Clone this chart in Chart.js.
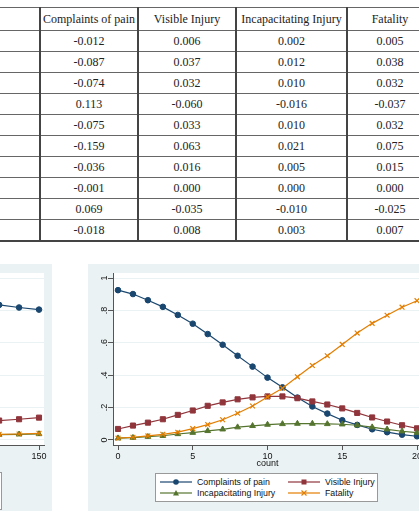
<!DOCTYPE html>
<html>
<head>
<meta charset="utf-8">
<script src="https://cdn.jsdelivr.net/npm/chart.js@4.4.1/dist/chart.umd.min.js"></script>
<style>
  body { margin: 0; width: 419px; height: 511px; overflow: hidden; position: relative; background: #fff; }
  #tbl { position: absolute; left: 0; top: 7px; width: 432px; border-collapse: collapse; table-layout: fixed;
         font-family: "Liberation Serif", "Times New Roman", serif; font-size: 12px; color: #222; }
  #tbl td { text-align: center; padding: 0; border-top: 1px solid #666; border-bottom: 1px solid #666;
            border-left: 2px solid #444; border-right: 2px solid #444; height: 20px; }
  #tbl tr:first-child td { height: 22px; }
  #tbl td:first-child { border-left: none; }
  #tbl td:last-child { border-right: none; }
  #tbl tr:last-child td { border-bottom: 2px solid #444; }
  .graph { position: absolute; top: 264px; height: 247px; background: #eaf2f3; overflow: hidden; }
  .graph canvas { position: absolute; left: 0; top: 0; }
  .legend { position: absolute; left: 67px; top: 209px; width: 223px; height: 29px; box-sizing: border-box;
            background: #fff; border: 1px solid #999;
            font-family: "Liberation Sans", Arial, sans-serif; font-size: 8.8px; color: #111; }
  .legend span { position: absolute; white-space: nowrap; line-height: 10px; }
  .legend svg { position: absolute; }
  #leftLegend { left: 69px; top: 208px; height: 38px; }
</style>
</head>
<body>
<table id="tbl"></table>

<div class="graph" style="left:-290px; width:342px;">
  <canvas id="leftChart" width="342" height="247"></canvas>
  <div class="legend" id="leftLegend"></div>
</div>
<div class="graph" style="left:88px; width:345px;">
  <canvas id="rightChart" width="345" height="247"></canvas>
  <div class="legend" id="rightLegend"></div>
</div>

<script>
// table
const tableHeaders = ['', 'Complaints of pain', 'Visible Injury', 'Incapacitating Injury', 'Fatality'];
const painEff    = ['-0.012', '-0.087', '-0.074', '0.113', '-0.075', '-0.159', '-0.036', '-0.001', '0.069', '-0.018'];
const visibleEff = ['0.006', '0.037', '0.032', '-0.060', '0.033', '0.063', '0.016', '0.000', '-0.035', '0.008'];
const incapEff   = ['0.002', '0.012', '0.010', '-0.016', '0.010', '0.021', '0.005', '0.000', '-0.010', '0.003'];
const fatalEff   = ['0.005', '0.038', '0.032', '-0.037', '0.032', '0.075', '0.015', '0.000', '-0.025', '0.007'];

// right graph: predicted probabilities by count
const countX   = [0, 1, 2, 3, 4, 5, 6, 7, 8, 9, 10, 11, 12, 13, 14, 15, 16, 17, 18, 19, 20];
const painP    = [0.925, 0.901, 0.863, 0.822, 0.772, 0.718, 0.654, 0.588, 0.520, 0.453, 0.385, 0.325, 0.262, 0.207, 0.163, 0.122, 0.093, 0.066, 0.048, 0.033, 0.023];
const visibleP = [0.068, 0.089, 0.107, 0.128, 0.155, 0.182, 0.211, 0.232, 0.251, 0.263, 0.269, 0.269, 0.258, 0.238, 0.219, 0.195, 0.167, 0.139, 0.114, 0.091, 0.072];
const incapP   = [0.011, 0.014, 0.020, 0.026, 0.037, 0.045, 0.056, 0.066, 0.079, 0.087, 0.095, 0.099, 0.101, 0.101, 0.099, 0.097, 0.091, 0.079, 0.066, 0.054, 0.045];
const fatalP   = [0.011, 0.017, 0.025, 0.035, 0.048, 0.070, 0.095, 0.125, 0.165, 0.210, 0.266, 0.320, 0.390, 0.460, 0.520, 0.590, 0.660, 0.720, 0.770, 0.820, 0.860];
const countTicks = [0, 5, 10, 15, 20];

// left graph (only its right end is visible)
const leftX       = [130, 140, 150];
const leftPain    = [0.834, 0.818, 0.805];
const leftVisible = [0.120, 0.128, 0.138];
const leftIncap   = [0.033, 0.035, 0.037];
const leftFatal   = [0.035, 0.037, 0.041];
const leftTicks = [0, 50, 100, 150];

const yTicks = [0, 0.2, 0.4, 0.6, 0.8, 1];
const yTickLabels = ['0', '.2', '.4', '.6', '.8', '1'];
const seriesNames = ['Complaints of pain', 'Visible Injury', 'Incapacitating Injury', 'Fatality'];

const colors = ['#1a476f', '#90353b', '#55752f', '#e37e00'];
const markers = ['circle', 'rect', 'triangle', 'crossRot'];
const radii = [2.8, 3.6, 3.3, 3.4];

// fill table
const tbl = document.getElementById('tbl');
const colW = [40, 98, 98, 111, 85];
tbl.innerHTML = '<colgroup>' + colW.map(w => `<col style="width:${w}px">`).join('') + '</colgroup>' +
  '<tr>' + tableHeaders.map(h => `<td>${h}</td>`).join('') + '</tr>' +
  painEff.map((v, i) => `<tr><td></td><td>${v}</td><td>${visibleEff[i]}</td><td>${incapEff[i]}</td><td>${fatalEff[i]}</td></tr>`).join('');

const plotBg = {
  id: 'plotBg',
  beforeDraw(chart) {
    const a = chart.chartArea, ctx = chart.ctx;
    ctx.save();
    ctx.fillStyle = '#fff';
    ctx.fillRect(a.left, a.top, a.right - a.left, a.bottom - a.top);
    ctx.restore();
  }
};

function makeChart(id, xs, ys, xTicks, xMax, padRight) {
  const pad = xMax * 5 / 299;
  new Chart(document.getElementById(id), {
    type: 'line',
    data: {
      datasets: ys.map((s, k) => ({
        label: seriesNames[k],
        data: xs.map((x, i) => ({ x: x, y: s[i] })),
        borderColor: colors[k],
        backgroundColor: colors[k],
        borderWidth: 1.2,
        pointStyle: markers[k],
        pointRadius: radii[k],
        pointBorderWidth: k === 3 ? 1.2 : 1,
        tension: 0,
        order: 3 - k
      }))
    },
    options: {
      responsive: false,
      devicePixelRatio: 1,
      animation: false,
      layout: { padding: { left: 0, top: 9, right: padRight, bottom: 0 } },
      plugins: { legend: { display: false }, tooltip: { enabled: false } },
      scales: {
        x: {
          type: 'linear', min: -pad, max: xMax + pad,
          afterBuildTicks: sc => { sc.ticks = xTicks.map(v => ({ value: v })); },
          afterFit: sc => { sc.height = 66; },
          grid: { drawOnChartArea: false, tickLength: 5, tickColor: '#555' },
          border: { color: '#555', width: 1 },
          ticks: { padding: 1, color: '#111', font: { family: 'Liberation Sans', size: 9 }, maxRotation: 0 },
          title: { display: true, text: 'count', color: '#111', font: { family: 'Liberation Sans', size: 9 },
                   padding: { top: 0, bottom: 42 } }
        },
        y: {
          min: -0.031, max: 1.031,
          afterBuildTicks: sc => { sc.ticks = yTicks.map(v => ({ value: v })); },
          afterFit: sc => { sc.width = 25; },
          grid: { color: '#eaf2f3', lineWidth: 1, tickLength: 5, tickColor: '#555' },
          border: { color: '#555', width: 1 },
          ticks: { padding: 0, color: '#111', minRotation: 90, maxRotation: 90, crossAlign: 'center',
                   font: { family: 'Liberation Sans', size: 9 },
                   callback: (v, i) => yTickLabels[i] }
        }
      }
    },
    plugins: [plotBg]
  });
}

function markerSvg(k) {
  const c = colors[k], cx = 16, cy = 4;
  let m = '';
  if (k === 0) m = `<circle cx="${cx}" cy="${cy}" r="2.8" fill="${c}"/>`;
  if (k === 1) m = `<rect x="${cx - 2.5}" y="${cy - 2.5}" width="5" height="5" fill="${c}"/>`;
  if (k === 2) m = `<polygon points="${cx},${cy - 3} ${cx + 3},${cy + 2.5} ${cx - 3},${cy + 2.5}" fill="${c}"/>`;
  if (k === 3) m = `<path d="M${cx - 2.5} ${cy - 2.5}L${cx + 2.5} ${cy + 2.5}M${cx - 2.5} ${cy + 2.5}L${cx + 2.5} ${cy - 2.5}" stroke="${c}" stroke-width="1.2"/>`;
  return `<line x1="0" y1="${cy}" x2="32" y2="${cy}" stroke="${c}" stroke-width="1.2"/>${m}`;
}

function buildLegend(id) {
  const el = document.getElementById(id);
  const cols = [4, 132], rows = [8.7, 20.3];
  el.innerHTML = seriesNames.map((n, k) => {
    const cx = cols[k % 2], cy = rows[Math.floor(k / 2)];
    return `<svg width="32" height="8" style="left:${cx}px; top:${cy - 5}px">${markerSvg(k)}</svg>` +
           `<span style="left:${cx + 37}px; top:${cy - 6}px">${n}</span>`;
  }).join('');
}

makeChart('rightChart', countX, [painP, visibleP, incapP, fatalP], countTicks, 20, 11);
makeChart('leftChart', leftX, [leftPain, leftVisible, leftIncap, leftFatal], leftTicks, 150, 8);
buildLegend('rightLegend');
buildLegend('leftLegend');
</script>
</body>
</html>
